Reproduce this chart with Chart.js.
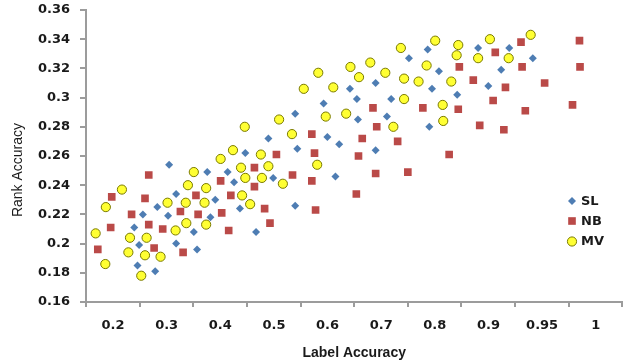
<!DOCTYPE html>
<html>
<head>
<meta charset="utf-8">
<script src="https://cdn.jsdelivr.net/npm/chart.js@4.4.1/dist/chart.umd.min.js"></script>
<style>
    html, body { margin: 0; padding: 0; background: #fff; }
    #wrap { width: 628px; height: 360px; }
</style>
</head>
<body>
<div id="wrap"><canvas id="rankChart" width="628" height="360"></canvas></div>
<script>
// x values are axis slots: slot 0 holds "0.2", slot 9 holds "1" (the axis is not linear)
const xTickLabels = ['0.2', '0.3', '0.4', '0.5', '0.6', '0.7', '0.8', '0.9', '0.95', '1'];
const yTicks = [0.16, 0.18, 0.20, 0.22, 0.24, 0.26, 0.28, 0.30, 0.32, 0.34, 0.36];

// SL
const slX = [0.90,0.96,0.99,1.06,1.29,1.33,1.53,1.55,1.68,1.68,2.01,2.07,2.26,2.32,2.41,2.64,2.76,2.87,2.97,3.17,3.40,3.49,3.90,3.90,3.94,4.43,4.50,4.65,4.72,4.92,5.05,5.07,5.40,5.40,5.61,5.69,6.02,6.37,6.40,6.45,6.58,6.92,7.31,7.50,7.74,7.89,8.33];
const slY = [0.211,0.185,0.199,0.220,0.181,0.225,0.219,0.254,0.234,0.200,0.208,0.196,0.249,0.218,0.230,0.249,0.242,0.224,0.262,0.208,0.272,0.245,0.289,0.226,0.265,0.296,0.273,0.246,0.268,0.306,0.299,0.285,0.310,0.264,0.287,0.299,0.327,0.333,0.280,0.306,0.318,0.302,0.334,0.308,0.319,0.334,0.327];

// NB
const nbX = [0.22,0.46,0.48,0.85,1.10,1.17,1.17,1.27,1.43,1.76,1.81,2.05,2.09,2.51,2.53,2.66,2.70,3.14,3.14,3.33,3.43,3.55,3.85,4.21,4.21,4.26,4.28,5.04,5.08,5.15,5.35,5.40,5.42,5.81,6.00,6.28,6.77,6.94,6.96,7.22,7.34,7.59,7.63,7.79,7.82,8.11,8.13,8.19,8.55,9.07,9.20,9.21];
const nbY = [0.196,0.211,0.232,0.220,0.231,0.247,0.213,0.197,0.210,0.222,0.194,0.233,0.220,0.243,0.221,0.209,0.233,0.252,0.239,0.224,0.214,0.261,0.247,0.275,0.243,0.262,0.223,0.234,0.260,0.272,0.293,0.248,0.280,0.270,0.249,0.293,0.261,0.292,0.321,0.312,0.281,0.298,0.331,0.278,0.307,0.338,0.321,0.291,0.310,0.295,0.339,0.321];

// MV
const mvX = [0.18,0.36,0.37,0.67,0.79,0.82,1.03,1.10,1.13,1.39,1.52,1.67,1.86,1.87,1.90,2.01,2.21,2.24,2.24,2.51,2.74,2.89,2.91,2.96,2.97,3.06,3.26,3.28,3.40,3.60,3.67,3.84,4.06,4.31,4.33,4.47,4.61,4.85,4.93,5.09,5.30,5.58,5.73,5.87,5.93,5.93,6.20,6.35,6.51,6.65,6.66,6.81,6.91,6.94,7.31,7.53,7.88,8.29];
const mvY = [0.207,0.186,0.225,0.237,0.194,0.204,0.178,0.192,0.204,0.191,0.228,0.209,0.228,0.214,0.240,0.249,0.228,0.238,0.213,0.258,0.264,0.252,0.233,0.280,0.245,0.227,0.261,0.245,0.253,0.285,0.241,0.275,0.306,0.254,0.317,0.287,0.307,0.289,0.321,0.314,0.324,0.317,0.280,0.334,0.313,0.299,0.311,0.322,0.339,0.295,0.284,0.311,0.329,0.336,0.327,0.340,0.327,0.343];

const toPoints = (xs, ys) => xs.map((x, i) => ({ x: x, y: ys[i] }));

const axisColor = '#9c9c9c';
const textColor = '#1a1a1a';
const tickFont = { family: 'DejaVu Sans', size: 13, weight: 'bold' };

// marker drawn by hand for the legend, same shapes chart.js uses
function drawMarker(ctx, ds, x, y) {
    const r = ds.pointRadius;
    ctx.save();
    ctx.fillStyle = ds.backgroundColor;
    ctx.strokeStyle = ds.borderColor;
    ctx.lineWidth = ds.borderWidth;
    ctx.beginPath();
    if (ds.pointStyle === 'rectRot') {
        ctx.moveTo(x - r, y); ctx.lineTo(x, y - r); ctx.lineTo(x + r, y); ctx.lineTo(x, y + r);
        ctx.closePath();
    } else if (ds.pointStyle === 'rect') {
        const s = r * Math.SQRT1_2;
        ctx.rect(x - s, y - s, 2 * s, 2 * s);
    } else {
        ctx.arc(x, y, r, 0, Math.PI * 2);
    }
    ctx.fill();
    if (ds.borderWidth) ctx.stroke();
    ctx.restore();
}

// legend on the right and the rotated y title
const extrasPlugin = {
    id: 'extras',
    afterDraw(chart) {
        const ctx = chart.ctx;
        const rows = [201, 221, 241.5];
        ctx.save();
        ctx.font = 'bold 13px "DejaVu Sans"';
        ctx.fillStyle = textColor;
        ctx.textBaseline = 'middle';
        chart.data.datasets.forEach((ds, i) => {
            drawMarker(ctx, ds, 572, rows[i]);
            ctx.fillStyle = textColor;
            ctx.fillText(ds.label, 581, rows[i] + 0.5);
        });

        ctx.translate(18.5, 170);
        ctx.rotate(-Math.PI / 2);
        ctx.textAlign = 'center';
        ctx.font = '14px "Liberation Sans", Arial';
        ctx.fillText('Rank Accuracy', 0, 0);
        ctx.restore();
    }
};

const ctx = document.getElementById('rankChart').getContext('2d');
new Chart(ctx, {
    type: 'scatter',
    data: {
        datasets: [
            {
                label: 'SL',
                data: toPoints(slX, slY),
                pointStyle: 'rectRot',
                pointRadius: 4,
                backgroundColor: '#4E7DB3',
                borderColor: '#4E7DB3',
                borderWidth: 0,
                order: 3
            },
            {
                label: 'NB',
                data: toPoints(nbX, nbY),
                pointStyle: 'rect',
                pointRadius: 5.4,
                backgroundColor: '#BA4A48',
                borderColor: '#BA4A48',
                borderWidth: 0,
                order: 2
            },
            {
                label: 'MV',
                data: toPoints(mvX, mvY),
                pointStyle: 'circle',
                pointRadius: 4.6,
                backgroundColor: '#FFFF33',
                borderColor: '#7A7A00',
                borderWidth: 1,
                order: 1
            }
        ]
    },
    options: {
        responsive: false,
        animation: false,
        layout: { padding: { left: 0, right: 1, top: 10, bottom: -2 } },
        plugins: {
            legend: { display: false },
            tooltip: { enabled: false }
        },
        scales: {
            x: {
                type: 'linear',
                min: 0,
                max: 10,
                afterBuildTicks: (scale) => {
                    scale.ticks = [0,1,2,3,4,5,6,7,8,9,10].map(v => ({ value: v }));
                },
                afterFit: (scale) => {
                    scale.height = 60;
                    scale.paddingLeft = 0;
                    scale.paddingRight = 0;
                },
                border: { color: axisColor, width: 2 },
                grid: { drawOnChartArea: false, color: axisColor, lineWidth: 2, tickLength: 5 },
                ticks: {
                    color: textColor,
                    font: tickFont,
                    padding: 11,
                    labelOffset: 27,
                    maxRotation: 0,
                    autoSkip: false,
                    callback: (value, index) => xTickLabels[index] || ''
                },
                title: {
                    display: true,
                    text: 'Label Accuracy',
                    color: textColor,
                    font: { family: 'Liberation Sans', size: 14, weight: 'bold' },
                    padding: { top: 0, bottom: 0 }
                }
            },
            y: {
                min: 0.16,
                max: 0.36,
                afterBuildTicks: (scale) => {
                    scale.ticks = yTicks.map(v => ({ value: v }));
                },
                afterFit: (scale) => {
                    scale.width = 86;
                    scale.paddingTop = 0;
                    scale.paddingBottom = 0;
                },
                border: { color: axisColor, width: 2 },
                grid: { drawOnChartArea: false, color: axisColor, lineWidth: 2, tickLength: 6 },
                ticks: {
                    color: textColor,
                    font: tickFont,
                    padding: 10,
                    autoSkip: false,
                    callback: (value) => String(+value.toFixed(2))
                }
            }
        }
    },
    plugins: [extrasPlugin]
});
</script>
</body>
</html>
